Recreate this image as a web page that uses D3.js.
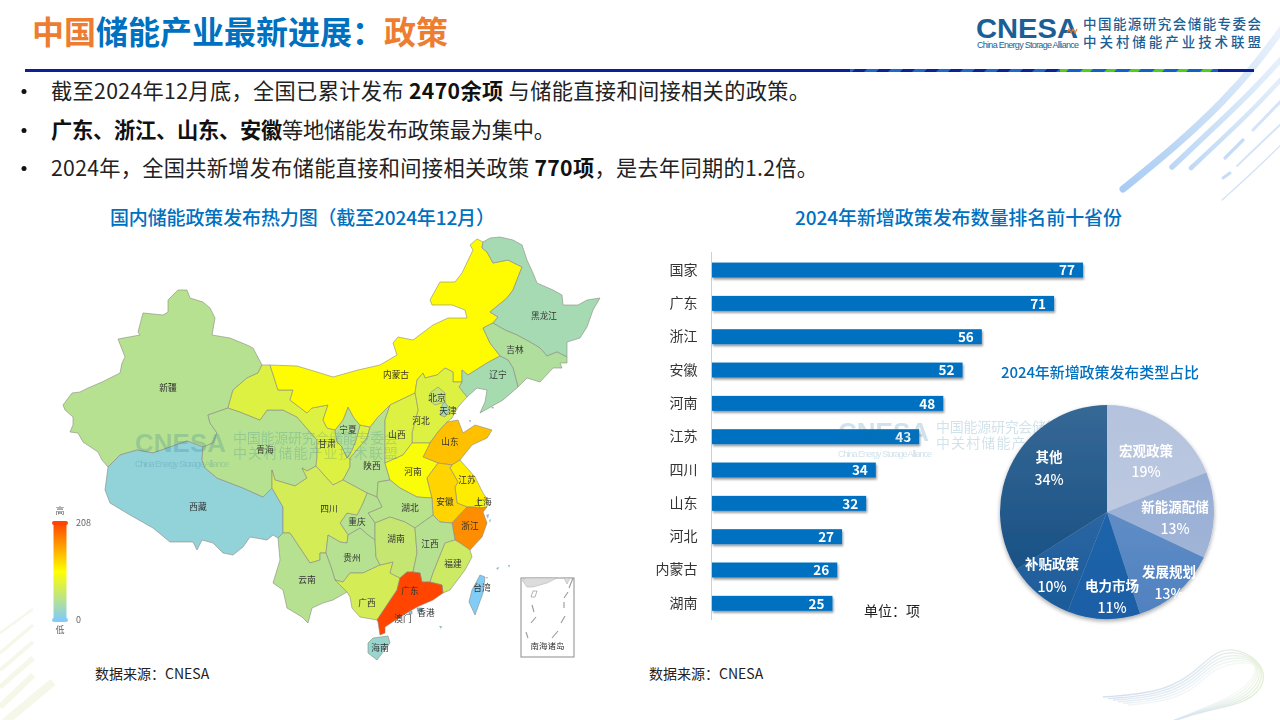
<!DOCTYPE html>
<html lang="zh"><head><meta charset="utf-8">
<script src="https://cdn.jsdelivr.net/npm/d3@7/dist/d3.min.js"></script>
<style>
html,body{margin:0;padding:0;background:#fff;overflow:hidden}
svg{display:block}
text{font-family:"Noto Sans CJK SC","Noto Sans",sans-serif}
.soft{filter:blur(.4px)}
</style></head><body>
<svg id="c" width="1280" height="720" viewBox="0 0 1280 720"></svg>
<script>
// ---------- data ----------
const barCategories=["国家","广东","浙江","安徽","河南","江苏","四川","山东","河北","内蒙古","湖南"];
const barValues=[77,71,56,52,48,43,34,32,27,26,25];
const pieCategories=["宏观政策","新能源配储","发展规划","电力市场","补贴政策","其他"];
const pieValues=[19,13,13,11,10,34];
const provinceNames=["新疆","西藏","青海","甘肃","宁夏","陕西","内蒙古","黑龙江","吉林","辽宁","河北","北京","天津","山西","山东","河南","江苏","上海","安徽","浙江","湖北","重庆","四川","贵州","云南","广西","湖南","江西","福建","广东","海南","台湾","香港","澳门"];
const provinceValues=[43,13,43,76,41,43,106,29,38,30,76,56,30,76,139,100,114,90,128,168,46,43,68,43,43,68,56,43,62,208,18,0,3,1];
const legendDomain=[0,104,208];
const legendColors=["#82ccf8","#ffff00","#ff4500"];
const legendTicks=[0,208];
const headline=[["中国","#ed7d31"],["储能产业最新进展：","#0070c0"],["政策","#ed7d31"]];
const bullets=[
 [["截至2024年12月底，全国已累计发布 ",0],["2470余项",1],[" 与储能直接和间接相关的政策。",0]],
 [["广东、浙江、山东、安徽",1],["等地储能发布政策最为集中。",0]],
 [["2024年，全国共新增发布储能直接和间接相关政策 ",0],["770项",1],["，是去年同期的1.2倍。",0]]
];
// Outline geometry of the map, in map units
const provinceOutlines={
"新疆":[[178,290],[187,290],[190,298],[203,302],[210,308],[215,318],[212,335],[230,338],[247,345],[253,348],[262,365],[258,373],[247,378],[233,390],[228,408],[208,415],[210,423],[217,433],[213,443],[203,447],[187,441],[170,447],[153,453],[137,450],[120,455],[108,467],[102,460],[98,452],[83,442],[78,433],[70,432],[73,425],[73,417],[65,410],[63,405],[72,393],[80,392],[88,388],[102,382],[120,373],[122,363],[125,357],[118,339],[140,335],[138,332],[143,313],[163,315],[168,312],[168,300]],
"西藏":[[108,467],[120,455],[137,450],[153,453],[170,447],[187,441],[203,447],[202,460],[205,468],[217,478],[243,488],[263,497],[272,488],[283,507],[283,533],[278,538],[273,535],[267,540],[250,537],[243,547],[233,555],[223,553],[213,543],[202,540],[197,550],[193,542],[170,542],[153,528],[130,515],[110,503],[105,490]],
"青海":[[208,415],[228,408],[240,412],[260,420],[267,410],[283,410],[297,417],[317,440],[317,457],[316,466],[307,471],[302,468],[307,478],[295,486],[275,480],[272,470],[272,488],[263,497],[243,488],[217,478],[205,468],[202,460],[203,447],[213,443],[217,433],[210,423]],
"甘肃":[[262,365],[270,365],[278,390],[293,390],[290,400],[307,413],[312,408],[328,405],[323,420],[327,428],[335,430],[337,442],[342,447],[347,458],[352,450],[356,440],[360,425],[370,427],[367,438],[350,458],[350,467],[343,480],[333,485],[316,466],[317,457],[317,440],[297,417],[283,410],[267,410],[260,420],[240,412],[228,408],[233,390],[247,378],[258,373]],
"宁夏":[[348,407],[354,418],[360,425],[356,440],[352,450],[347,458],[342,447],[337,442],[335,430],[343,420]],
"陕西":[[390,405],[385,420],[385,463],[390,480],[378,482],[377,497],[367,493],[343,480],[350,467],[350,458],[367,438],[370,427],[377,418]],
"内蒙古":[[270,365],[297,366],[317,372],[333,377],[358,370],[380,365],[397,355],[393,343],[398,337],[413,340],[433,325],[448,318],[467,318],[465,310],[452,305],[432,305],[430,300],[440,282],[455,282],[462,273],[473,250],[470,245],[477,239],[483,242],[482,248],[487,252],[493,263],[508,260],[522,267],[513,290],[507,298],[490,312],[498,317],[493,323],[483,328],[490,343],[500,356],[487,363],[468,375],[462,370],[462,382],[453,382],[453,372],[445,368],[437,375],[425,378],[423,373],[417,380],[415,393],[390,405],[377,418],[370,427],[360,425],[354,418],[348,407],[343,420],[335,430],[327,428],[323,420],[328,405],[312,408],[307,413],[290,400],[293,390],[278,390]],
"黑龙江":[[483,242],[490,238],[500,237],[513,240],[522,245],[527,260],[533,273],[537,283],[553,290],[562,295],[563,305],[578,305],[587,300],[600,298],[593,310],[587,327],[580,338],[567,342],[567,357],[557,352],[547,356],[540,348],[530,342],[517,335],[505,330],[493,323],[498,317],[490,312],[507,298],[513,290],[522,267],[508,260],[493,263],[487,252],[482,248]],
"吉林":[[483,328],[493,323],[505,330],[517,335],[530,342],[540,348],[547,356],[557,352],[567,357],[567,363],[560,363],[562,368],[553,368],[540,382],[527,378],[518,387],[513,368],[508,360],[500,356],[490,343]],
"辽宁":[[500,356],[508,360],[513,368],[518,387],[503,400],[480,413],[485,402],[487,390],[477,388],[467,397],[459,387],[462,382],[462,370],[468,375],[487,363]],
"河北":[[417,380],[423,373],[425,378],[437,375],[445,368],[453,372],[453,382],[462,382],[459,387],[467,397],[458,407],[452,418],[447,422],[438,432],[430,443],[412,443],[412,433],[418,410],[415,393]],
"北京":[[430,393],[438,387],[445,393],[445,402],[435,405],[429,400]],
"天津":[[445,402],[450,410],[445,417],[440,415],[442,405]],
"山西":[[390,405],[415,393],[418,410],[412,433],[412,443],[403,455],[385,463],[385,420]],
"山东":[[447,422],[458,420],[463,433],[475,425],[492,430],[487,438],[472,445],[460,460],[452,465],[438,463],[423,457],[430,443],[438,432]],
"河南":[[385,463],[403,455],[412,443],[430,443],[423,457],[438,463],[427,478],[432,498],[417,497],[400,488],[390,480]],
"江苏":[[460,460],[475,477],[483,493],[488,500],[477,500],[480,508],[473,507],[467,507],[457,503],[455,487],[458,482],[450,468],[452,465]],
"上海":[[477,500],[488,500],[487,507],[480,508]],
"安徽":[[438,463],[452,465],[450,468],[458,482],[455,487],[457,503],[467,507],[452,523],[440,522],[433,515],[432,498],[427,478]],
"浙江":[[467,507],[473,507],[480,508],[487,507],[483,512],[487,523],[482,537],[470,550],[460,543],[455,540],[452,523]],
"湖北":[[377,497],[378,482],[390,480],[400,488],[417,497],[432,498],[433,515],[415,528],[405,522],[390,517],[375,523],[368,513],[382,507]],
"重庆":[[367,493],[377,497],[382,507],[368,513],[375,523],[375,540],[368,535],[360,528],[348,535],[340,523],[347,513],[357,515],[363,503]],
"四川":[[272,470],[275,480],[295,486],[307,478],[302,468],[307,471],[316,466],[333,485],[343,480],[367,493],[363,503],[357,515],[347,513],[340,523],[348,535],[347,543],[340,542],[328,535],[326,553],[320,553],[320,560],[310,563],[290,533],[283,533],[283,507],[272,488]],
"贵州":[[328,535],[340,542],[347,543],[348,535],[360,528],[368,535],[375,540],[376,557],[380,565],[363,573],[350,573],[343,582],[335,580],[332,570],[326,553]],
"云南":[[278,538],[283,533],[290,533],[310,563],[320,560],[320,553],[326,553],[332,570],[335,580],[347,592],[333,600],[323,603],[312,608],[308,623],[302,617],[287,608],[283,590],[273,583],[280,560]],
"广西":[[335,580],[343,582],[350,573],[363,573],[380,565],[393,562],[390,573],[400,578],[397,590],[385,608],[377,620],[360,617],[352,608],[350,597],[347,592]],
"湖南":[[375,523],[390,517],[405,522],[415,528],[417,553],[413,572],[407,572],[400,578],[390,573],[393,562],[380,565],[376,557],[375,540]],
"江西":[[415,528],[433,515],[440,522],[452,523],[455,540],[445,543],[433,573],[430,582],[422,582],[420,573],[413,572],[417,553]],
"福建":[[455,540],[460,543],[470,550],[472,557],[465,570],[450,590],[443,593],[442,585],[430,582],[433,573],[445,543]],
"广东":[[407,572],[413,572],[420,573],[422,582],[430,582],[442,585],[443,593],[433,600],[417,607],[400,617],[385,627],[385,633],[380,635],[378,622],[377,620],[385,608],[397,590],[400,578]],
"海南":[[373,638],[388,636],[390,643],[377,660],[368,653],[368,643]],
"台湾":[[480,575],[485,577],[483,593],[475,615],[469,602],[472,590]],
"香港":[[417,608],[422,608],[423,611],[418,612]],
"澳门":[[409,611],[412,611],[412,614],[409,614]]
};
const islandOutlines=[[[486,515],[489,514],[488,519]],[[489,520],[491,519],[490,523]],[[496,568],[499,567],[498,570]],[[508,565],[510,565],[509,568]],[[439,626],[442,626],[441,629]],[[486,577],[488,577],[487,579]],[[491,407],[494,407],[493,409]],[[469,420],[471,420],[470,423]]];
const nanhaiLand=[[[522,580],[526,578],[557,578],[547,583],[533,587],[527,587]],[[564,578],[570,578],[567,584]]];
const nanhaiIsle=[[[533,591],[537,591],[535,597],[531,597]]];
const nanhaiDashes=[[[532,605],[534,612]],[[531,623],[536,617]],[[526,632],[528,638]],[[552,638],[558,631]],[[561,623],[565,616]],[[564,602],[564,608]],[[564,598],[568,592]],[[569,588],[573,578]]];
// ---------- setup ----------
const svg=d3.select("#c");
const defs=svg.append("defs");
const grad=(id,x1,y1,x2,y2,stops)=>{const g=defs.append("linearGradient").attr("id",id).attr("gradientUnits","userSpaceOnUse").attr("x1",x1).attr("y1",y1).attr("x2",x2).attr("y2",y2);
 stops.forEach(s=>g.append("stop").attr("offset",s[0]).attr("stop-color",s[1]));};
const barFx=defs.append("filter").attr("id","barShadow").attr("x","-5%").attr("y","-30%").attr("width","110%").attr("height","170%");
barFx.append("feDropShadow").attr("dx",1).attr("dy",2).attr("stdDeviation",1).attr("flood-color","#000").attr("flood-opacity",.4);
const pieFx=defs.append("filter").attr("id","pieShadow").attr("x","-10%").attr("y","-10%").attr("width","120%").attr("height","125%");
pieFx.append("feDropShadow").attr("dx",0).attr("dy",2).attr("stdDeviation",2).attr("flood-color","#000").attr("flood-opacity",.35);

// ---------- background decoration ----------
const deco=svg.append("g");
grad("st1",1123,189,1280,30,[[0,"#a9ccf3"],[.6,"#cfe2f7"],[1,"#eaf2fc"]]);
grad("st2",1172,167,1280,60,[[0,"#bcd7f5"],[1,"#e6f0fb"]]);
const lineGen=d3.line().curve(d3.curveBasis);
[[[[1123,189],[1175,147],[1225,100],[1258,62],[1285,25]],7,"url(#st1)"],
 [[[1172,167],[1222,120],[1255,88],[1285,55]],5.5,"url(#st2)"],
 [[[1191,168],[1237,125],[1262,100],[1285,75]],4.5,"url(#st2)"],
 [[[1225,158],[1243,140]],3.2,"#c6dcf6"],
 [[[1223,178],[1230,173]],3,"#c6dcf6"],
 [[[1253,130],[1285,97]],3,"#d3e4f8"],
 [[[1237,166],[1285,120]],2,"#d5e5f8"],
 [[[1222,200],[1250,175],[1285,141]],1.2,"#cfe1f7"]
].forEach(d=>deco.append("path").attr("d",lineGen(d[0])).attr("fill","none").attr("stroke",d[2]).attr("stroke-width",d[1]).attr("stroke-linecap","round"));
[[[0,633],[33,609],2.5],[[0,653],[33,625],3.5],[[0,670],[33,642],4],[[0,687],[33,658],5],[[0,707],[33,675],6],[[5,722],[53,682],8]]
 .forEach(d=>deco.append("line").attr("x1",d[0][0]).attr("y1",d[0][1]).attr("x2",d[1][0]).attr("y2",d[1][1]).attr("stroke","#f5f8e9").attr("stroke-width",d[2]));
grad("sw",1103,690,1267,690,[[0,"#d3dfee"],[.55,"#dbe6ef"],[1,"#e4f1d6"]]);
[0,1,2,3,4,5].forEach(i=>{const k=i*3.2;
 deco.append("path").attr("d",lineGen([[1103+i*5,697+k*.5],[1157,693+k*.6],[1190,677+k],[1213,653+k],[1233,647+k],[1260,660+k*.4-i],[1267-k,683],[1247-k,703-k*.4],[1207,710-k*.2],[1170,722]]))
 .attr("fill","none").attr("stroke","url(#sw)").attr("stroke-width",1.4).attr("opacity",1-i*.13);});

// ---------- header ----------
const h1=svg.append("text").attr("x",32).attr("y",44).attr("font-size",32).attr("font-weight",700);
h1.selectAll("tspan").data(headline).join("tspan").attr("fill",d=>d[1]).text(d=>d[0]);
const logo=svg.append("g").attr("fill","#1a5f96");
logo.append("text").attr("x",976).attr("y",38).attr("font-size",28).attr("font-weight",700).style("font-family","'Liberation Sans'").attr("textLength",102).attr("lengthAdjust","spacingAndGlyphs").text("CNESA");
logo.append("text").attr("x",977).attr("y",48).attr("font-size",9).style("font-family","'Liberation Sans'").attr("textLength",102).text("China Energy Storage Alliance");
logo.append("text").attr("x",1083).attr("y",29).attr("font-size",13.5).attr("font-weight",500).attr("textLength",178).text("中国能源研究会储能专委会");
logo.append("text").attr("x",1083).attr("y",47).attr("font-size",13.5).attr("font-weight",500).attr("textLength",178).text("中关村储能产业技术联盟");
logo.append("path").attr("d","M1067 33l2-4 2 4 2-4 2 4 2-4").attr("fill","none").attr("stroke","#e8772e").attr("stroke-width",1.2);

const stripeA=defs.append("pattern").attr("id","stripeA").attr("patternUnits","userSpaceOnUse").attr("width",24).attr("height",3).attr("patternTransform","skewX(-45)");
stripeA.append("rect").attr("width",24).attr("height",3).attr("fill","#0f62c6");
stripeA.append("rect").attr("width",10).attr("height",3).attr("fill","#55cc22");
const stripeB=defs.append("pattern").attr("id","stripeB").attr("patternUnits","userSpaceOnUse").attr("width",24).attr("height",3).attr("patternTransform","skewX(-45)");
stripeB.append("rect").attr("width",24).attr("height",3).attr("fill","#0c2196");
stripeB.append("rect").attr("width",12).attr("height",3).attr("fill","#1a6bd0");
svg.append("rect").attr("x",25).attr("y",69).attr("width",1229).attr("height",3).attr("fill","#0c1f96");
svg.append("rect").attr("x",850).attr("y",69).attr("width",210).attr("height",3).attr("fill","url(#stripeB)");
svg.append("rect").attr("x",1060).attr("y",69).attr("width",158).attr("height",3).attr("fill","url(#stripeA)");

// ---------- bullets ----------
const bulletLengths=[759,504,767];
bullets.forEach((parts,i)=>{
 const y=[98.5,137.5,175.5][i];
 svg.append("circle").attr("cx",24).attr("cy",y-7).attr("r",2.5).attr("fill","#111");
 const t=svg.append("text").attr("x",51).attr("y",y).attr("font-size",21.2).attr("fill","#222").attr("textLength",bulletLengths[i]).style("white-space","pre");
 t.selectAll("tspan").data(parts).join("tspan").attr("font-weight",d=>d[1]?700:400).attr("fill",d=>d[1]?"#111":"#222").text(d=>d[0]);
});
const titleBlue="#0070c0";
svg.append("text").attr("x",110).attr("y",225).attr("font-size",19).attr("font-weight",500).attr("fill",titleBlue).attr("textLength",385).text("国内储能政策发布热力图（截至2024年12月）");
svg.append("text").attr("x",795).attr("y",225).attr("font-size",19).attr("font-weight",500).attr("fill",titleBlue).attr("textLength",327).text("2024年新增政策发布数量排名前十省份");
svg.append("text").attr("x",95).attr("y",679).attr("font-size",14).attr("fill","#222").text("数据来源：CNESA");
svg.append("text").attr("x",649).attr("y",679).attr("font-size",14).attr("fill","#222").text("数据来源：CNESA");

// ---------- map ----------
const color=d3.scaleLinear().domain(legendDomain).range(legendColors).interpolate(d3.interpolateRgb);
const toPoly=r=>{const c=r.concat([r[0]]);return{type:"Polygon",coordinates:[c]};};
const mapPath=d3.geoPath(d3.geoIdentity().scale(1).translate([0,0]));
const mapG=svg.append("g").attr("class","soft");
const valueOf=new Map(provinceNames.map((n,i)=>[n,provinceValues[i]]));
mapG.selectAll("path.prov").data(provinceNames).join("path").attr("class","prov")
 .attr("d",n=>mapPath(toPoly(provinceOutlines[n]))).attr("fill",n=>color(valueOf.get(n)))
 .attr("stroke","#8a8a80").attr("stroke-width",.6).attr("stroke-linejoin","round");
mapG.selectAll("path.isl").data(islandOutlines).join("path").attr("class","isl").attr("d",r=>mapPath(toPoly(r))).attr("fill","#9ab8c8");
// South China Sea inset
mapG.append("rect").attr("x",521).attr("y",578).attr("width",53).attr("height",79).attr("fill","#fff").attr("stroke","#8c8c8c").attr("stroke-width",1);
mapG.selectAll("path.nl").data(nanhaiLand).join("path").attr("class","nl").attr("d",r=>mapPath(toPoly(r))).attr("fill","#dcdcdc").attr("stroke","#aaa").attr("stroke-width",.5);
mapG.selectAll("path.ni").data(nanhaiIsle).join("path").attr("class","ni").attr("d",r=>mapPath(toPoly(r))).attr("fill","#fff").attr("stroke","#999").attr("stroke-width",.7);
mapG.selectAll("path.nd").data(nanhaiDashes).join("path").attr("class","nd").attr("d",r=>mapPath({type:"LineString",coordinates:r})).attr("fill","none").attr("stroke","#999").attr("stroke-width",1.1);
mapG.append("text").attr("x",547.5).attr("y",649).attr("text-anchor","middle").attr("font-size",8.5).attr("fill","#333").text("南海诸岛");
// province labels
const labelAt={"新疆":[168,388],"西藏":[198,507],"青海":[265,450],"甘肃":[327,444],"宁夏":[348,430],"陕西":[372,466],"内蒙古":[396,375],"黑龙江":[544,316],"吉林":[515,350],"辽宁":[498,375],"河北":[421,421],"北京":[437,398],"天津":[448,411],"山西":[397,435],"山东":[450,442],"河南":[413,472],"江苏":[467,480],"上海":[483,502],"安徽":[445,502],"浙江":[470,526],"湖北":[410,508],"重庆":[357,522],"四川":[329,509],"贵州":[352,558],"云南":[307,580],"广西":[367,603],"湖南":[396,539],"江西":[430,544],"福建":[453,564],"广东":[410,591],"海南":[380,648],"台湾":[482,588],"香港":[426,613],"澳门":[403,619]};
mapG.selectAll("text.pl").data(provinceNames).join("text").attr("class","pl")
 .attr("x",n=>labelAt[n][0]).attr("y",n=>labelAt[n][1]).attr("dy","0.35em").attr("text-anchor","middle")
 .attr("font-size",8.7).attr("fill","#333").text(n=>n);
// legend
const legendY=d3.scaleLinear().domain([0,208]).range([620,523]);
const lg=defs.append("linearGradient").attr("id","legendGrad").attr("x1",0).attr("y1",1).attr("x2",0).attr("y2",0);
d3.range(0,209,26).forEach(v=>lg.append("stop").attr("offset",v/208).attr("stop-color",color(v)));
const legend=svg.append("g").attr("class","soft");
legend.append("rect").attr("x",53.5).attr("y",legendY(208)).attr("width",13).attr("height",legendY(0)-legendY(208)).attr("fill","url(#legendGrad)");
legend.selectAll("rect.h").data(legendTicks).join("rect").attr("class","h").attr("x",52).attr("y",d=>legendY(d)-2).attr("width",16).attr("height",4).attr("rx",2).attr("fill",d=>color(d));
legend.selectAll("text.t").data(legendTicks).join("text").attr("class","t").attr("x",76).attr("y",d=>legendY(d)).attr("dy","0.35em").attr("font-size",9).attr("fill","#666").text(d=>d);
legend.append("text").attr("x",60).attr("y",514).attr("text-anchor","middle").attr("font-size",9).attr("fill","#666").text("高");
legend.append("text").attr("x",60).attr("y",633).attr("text-anchor","middle").attr("font-size",9).attr("fill","#666").text("低");
// watermarks
function watermark(x,y1,y2,xc){const g=svg.append("g").attr("fill","#1a6f96").attr("opacity",.2);
 g.append("text").attr("x",x).attr("y",y1+14).attr("font-size",26).attr("font-weight",700).style("font-family","'Liberation Sans'").text("CNESA");
 g.append("text").attr("x",x).attr("y",y2+14).attr("font-size",9).style("font-family","'Liberation Sans'").attr("textLength",94).text("China Energy Storage Alliance");
 g.append("text").attr("x",xc).attr("y",y1+5).attr("font-size",14).attr("textLength",165).text("中国能源研究会储能专委会");
 g.append("text").attr("x",xc).attr("y",y2+5).attr("font-size",14).attr("textLength",165).text("中关村储能产业技术联盟");}
watermark(135,438,453,233);

// ---------- bar chart ----------
const barG=svg.append("g").attr("class","soft");
const yBar=d3.scaleBand().domain(barCategories).range([253.4,620]).paddingInner(.55).paddingOuter(.275);
const xBar=d3.scaleLinear().domain([0,77]).range([712,1083]);
const axisL=d3.axisLeft(yBar).tickSize(0).tickPadding(14);
const axG=barG.append("g").attr("transform","translate(711.5,0)").call(axisL);
axG.select(".domain").attr("stroke","#d0d0d0").attr("d","M0,252V620");
axG.selectAll("text").attr("font-size",14).attr("fill","#333").style("font-family",'"Noto Sans CJK SC"');
barG.selectAll("rect.bar").data(barValues).join("rect").attr("class","bar")
 .attr("x",xBar(0)).attr("y",(d,i)=>yBar(barCategories[i])).attr("width",d=>xBar(d)-xBar(0)).attr("height",yBar.bandwidth())
 .attr("fill","#0070c0").attr("filter","url(#barShadow)");
barG.selectAll("text.val").data(barValues).join("text").attr("class","val")
 .attr("x",d=>xBar(d)-8).attr("y",(d,i)=>yBar(barCategories[i])+yBar.bandwidth()/2+.5).attr("dy","0.36em").attr("text-anchor","end")
 .attr("font-size",13.5).attr("font-weight",700).attr("fill","#fff").text(d=>d);
svg.append("text").attr("x",864).attr("y",616).attr("font-size",14).attr("fill","#222").text("单位：项");
watermark(838,427,443,936);

// ---------- pie ----------
svg.append("text").attr("x",1001).attr("y",378).attr("font-size",15).attr("font-weight",500).attr("fill",titleBlue).attr("textLength",198).text("2024年新增政策发布类型占比");
const pieC=[1107,512], pieR=107;
const sliceGrads=[["#b4c2dd","#c6d0e4"],["#8ea7d0","#a8badb"],["#4f81bf","#7098cc"],["#1f6bb2","#1f5ea5"],["#3c72ad","#1a5a98"],["#366895","#104a80"]];
sliceGrads.forEach((s,i)=>grad("ps"+i,0,pieC[1]-pieR,0,pieC[1]+pieR,[[0,i==2?s[1]:s[0]],[1,i==2?s[0]:s[1]]]));
const pie=d3.pie().sort(null);
const arc=d3.arc().innerRadius(0).outerRadius(pieR);
const pieG=svg.append("g").attr("class","soft").attr("transform",`translate(${pieC[0]},${pieC[1]})`);
const pg=pieG.append("g").attr("filter","url(#pieShadow)");
// gradients are stated in page space, the slices sit in a translated group
sliceGrads.forEach((s,i)=>d3.select("#ps"+i).attr("gradientTransform",`translate(0,${-pieC[1]})`));
pg.selectAll("path").data(pie(pieValues)).join("path").attr("d",arc).attr("fill",(d,i)=>`url(#ps${i})`);
const pctLabelAt=[[39,-61,-40],[68,-5,17],[62,60,82],[5,74,96],[-55,52,75],[-58,-55,-32]];
pieCategories.forEach((c,i)=>{const p=pctLabelAt[i];
 pieG.append("text").attr("x",p[0]).attr("y",p[1]).attr("dy","0.36em").attr("text-anchor","middle").attr("font-size",13.5).attr("font-weight",700).attr("fill","#fff").text(c);
 pieG.append("text").attr("x",p[0]).attr("y",p[2]).attr("dy","0.36em").attr("text-anchor","middle").attr("font-size",14).attr("font-weight",500).attr("fill","#fff").text(pieValues[i]+"%");
});
</script>
</body></html>
